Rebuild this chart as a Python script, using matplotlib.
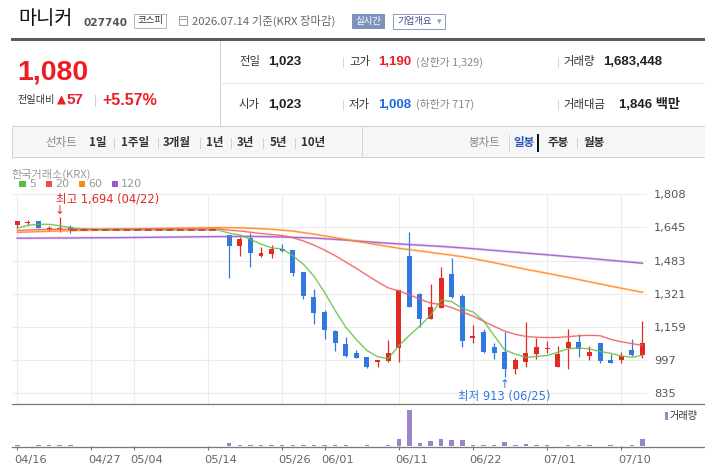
import numpy as np
import pandas as pd
import matplotlib
matplotlib.use('Agg')
import matplotlib.pyplot as plt
from matplotlib.lines import Line2D
from matplotlib.patches import Rectangle
import matplotlib.transforms as mtrans

plt.rcParams['font.family'] = ['DejaVu Sans', 'Noto Sans CJK KR']

# ---------------- data ----------------
dates = ['04/16', '04/17', '04/20', '04/21', '04/22', '04/23', '04/24', '04/27', '04/28', '04/29',
         '04/30', '05/04', '05/06', '05/07', '05/08', '05/11', '05/12', '05/13', '05/14', '05/15',
         '05/18', '05/19', '05/20', '05/21', '05/22', '05/26', '05/27', '05/28', '05/29', '06/01',
         '06/02', '06/04', '06/05', '06/08', '06/09', '06/10', '06/11', '06/12', '06/15', '06/16',
         '06/17', '06/18', '06/19', '06/22', '06/23', '06/24', '06/25', '06/26', '06/29', '06/30',
         '07/01', '07/02', '07/03', '07/06', '07/07', '07/08', '07/09', '07/10', '07/13', '07/14']
N = np.nan
halt = [N] * 14
opens = [1655, 1665, 1676, 1637, 1636, 1648] + halt + [
    1608, 1556, 1592, 1507, 1517, 1538, 1535, 1427, 1305, 1232, 1139, 1076, 1032, 1012, 989, 993,
    1058, 1505, 1320, 1199, 1253, 1417, 1310, 1106, 1133, 1061, 1037, 952, 989, 1028, 1052, 962,
    1056, 1084, 1017, 1081, 998, 998, 1046, 1023]
closes = [1676, 1668, 1641, 1643, 1638, 1632] + halt + [
    1556, 1588, 1521, 1520, 1539, 1530, 1424, 1312, 1229, 1145, 1082, 1019, 1009, 963, 996, 1030,
    1339, 1258, 1199, 1255, 1396, 1304, 1092, 1115, 1038, 1033, 952, 996, 1032, 1061, 1056, 1028,
    1085, 1050, 1037, 994, 985, 1017, 1023, 1080]
highs = [1676, 1681, 1676, 1653, 1694, 1657] + halt + [
    1608, 1597, 1616, 1548, 1558, 1564, 1535, 1427, 1344, 1242, 1144, 1110, 1046, 1012, 996, 1095,
    1339, 1621, 1326, 1369, 1453, 1494, 1320, 1168, 1150, 1079, 1136, 1006, 1182, 1105, 1092, 1066,
    1149, 1125, 1066, 1081, 1025, 1038, 1099, 1190]
lows = [1643, 1657, 1641, 1627, 1624, 1619] + halt + [
    1399, 1507, 1453, 1499, 1497, 1525, 1409, 1295, 1175, 1102, 1043, 1014, 1009, 958, 965, 986,
    989, 1255, 1160, 1199, 1253, 1300, 1063, 1079, 1030, 1001, 913, 929, 962, 1004, 1033, 962,
    954, 1014, 998, 981, 981, 985, 1015, 1008]
volumes = [250000, 60000, 280000, 260000, 300000, 260000] + [0] * 14 + [
    760000, 280000, 250000, 240000, 260000, 250000, 270000, 260000, 250000, 270000, 260000, 240000,
    100000, 300000, 100000, 300000, 1680000, 8370000, 760000, 1220000, 1680000, 1450000, 1450000,
    300000, 300000, 300000, 990000, 300000, 530000, 300000, 300000, 100000, 300000, 300000, 300000,
    100000, 300000, 100000, 300000, 1683448]

# moving-average starts (window not yet full)
ma5_head = [1641, 1655, 1660, 1660]
ma20_head = [1630, 1632, 1634, 1635, 1636, 1636, 1637, 1637, 1637, 1637,
             1637, 1637, 1637, 1637, 1637, 1637, 1637, 1637, 1637]
ma60_idx = [0, 5, 10, 15, 19, 21, 24, 26, 28, 30, 32, 34, 36, 38, 40, 42, 44, 46, 48, 50, 53, 56, 59]
ma60_val = [1621, 1629, 1636, 1641, 1644, 1643, 1636, 1627, 1612, 1595, 1577, 1560, 1543, 1530,
            1516, 1502, 1483, 1462, 1440, 1421, 1390, 1358, 1328]
ma120_idx = [0, 10, 19, 22, 25, 28, 31, 34, 37, 40, 43, 47, 50, 53, 56, 59]
ma120_val = [1592, 1595, 1600, 1601, 1598, 1593, 1583, 1571, 1561, 1552, 1541, 1524, 1511, 1498,
             1484, 1470]

price_ticks = [835, 997, 1159, 1321, 1483, 1645, 1808]
date_ticks = ['04/16', '04/27', '05/04', '05/14', '05/26', '06/01', '06/11', '06/22', '07/01', '07/10']

high_label = '최고 1,694 (04/22)'
low_label = '최저 913 (06/25)'

# ---------------- figure ----------------
W, H = 705, 476
fig = plt.figure(figsize=(W / 100, H / 100), dpi=100)
fig.patch.set_facecolor('white')
KR = ['Noto Sans CJK KR', 'DejaVu Sans']
NUM = ['Liberation Sans', 'Noto Sans CJK KR']

RED = '#e32a22'
BLUE = '#3278e0'
VOLC = '#9c85c6'


def fx(x):
    return x / W


def fy(y):
    return 1 - y / H


def ftext(x, y, s, size, color='#333', weight='normal', ha='left', va='center', family=KR):
    fig.text(fx(x), fy(y), s, fontsize=size, color=color, fontweight=weight,
             ha=ha, va=va, family=family)


def fline(x0, x1, y0, y1, color, lw_px, ls='-'):
    fig.add_artist(Line2D([fx(x0), fx(x1)], [fy(y0), fy(y1)], transform=fig.transFigure,
                          color=color, lw=lw_px * 0.72, ls=ls))


def frect(x0, y0, x1, y1, fc, ec='none', lw_px=1):
    fig.add_artist(Rectangle((fx(x0), fy(y1)), (x1 - x0) / W, (y1 - y0) / H,
                             transform=fig.transFigure, fc=fc, ec=ec, lw=lw_px * 0.72))


# ---------------- header ----------------
ftext(18, 19, '마니커', 14.2, '#111')
ftext(83, 22.5, '027740', 7.6, '#555', 'bold', family=['DejaVu Sans'])
frect(134, 14, 166, 28, 'white', '#b5b5b5')
ftext(150, 21, '코스피', 6.8, '#333', ha='center')
frect(179, 16, 187, 25, 'white', '#a0a0a0')
fline(179, 187, 18.5, 18.5, '#a0a0a0', 1)
ftext(192, 21, '2026.07.14 기준(KRX 장마감)', 8.2, '#666')
frect(352, 14, 385, 29, '#7f92bd')
ftext(368.5, 21.5, '실시간', 6.8, 'white', ha='center')
frect(393, 14, 445, 29, 'white', '#8e9cc4')
ftext(397, 21.5, '기업개요', 6.8, '#3c4b8c')
ftext(437, 22, '▾', 6.5, '#8e9cc4', family=['DejaVu Sans'])

fline(12, 705, 39.2, 39.2, '#5c5c5c', 3)

ftext(17, 72.5, '1,080', 20.5, '#ee1c25', 'bold', family=['Liberation Sans Narrow', 'Liberation Sans'])
ftext(18, 100.5, '전일대비', 7.3, '#333')
ftext(56.5, 100.5, '▲', 8.5, '#ee1c25', family=['DejaVu Sans'])
ftext(66, 100.5, '57', 11, '#ee1c25', 'bold', family=NUM)
fline(95, 95, 95, 106, '#d0d0d0', 1)
ftext(102, 100.5, '+5.57%', 11.5, '#ee1c25', 'bold', family=NUM)

fline(220, 220, 40.7, 126, '#d0d0d0', 1)
fline(220, 705, 83, 83, '#e6e6e6', 1)

row1, row2 = 62, 104.5
for yy, a, av, ac, b, bv, bc, bsub, c, cv in [
        (row1, '전일', '1,023', '#222', '고가', '1,190', '#ee1c25', '(상한가 1,329)', '거래량', '1,683,448'),
        (row2, '시가', '1,023', '#222', '저가', '1,008', '#1a6be0', '(하한가 717)', '거래대금', '1,846 백만')]:
    ftext(239, yy, a, 8.2, '#333')
    ftext(268, yy, av, 9.5, ac, 'bold', family=NUM)
    fline(342.5, 342.5, yy - 5, yy + 5, '#d5d5d5', 1)
    ftext(349, yy, b, 8.2, '#333')
    ftext(378, yy, bv, 9.5, bc, 'bold', family=NUM)
    ftext(416, yy, bsub, 7.8, '#888')
    fline(557.5, 557.5, yy - 5, yy + 5, '#d5d5d5', 1)
    ftext(563, yy, c, 8.2, '#333')
    ftext(603 if c == '거래량' else 619, yy, cv, 9.5, '#222', 'bold', family=NUM)

# toolbar
frect(12, 126, 704.5, 157, '#f5f6f8', '#d2d2d2')
ty = 142.5
ftext(45, ty, '선차트', 8.3, '#888')
for xx, s in [(89, '1일'), (121, '1주일'), (163, '3개월'), (206, '1년'), (237, '3년'), (270, '5년'), (301, '10년')]:
    ftext(xx, ty, s, 8.3, '#333', 'bold')
for xx in [114, 158, 200, 231, 263, 295]:
    fline(xx, xx, ty - 5, ty + 5, '#d0d0d0', 1)
fline(362, 362, 126, 157, '#d5d5d5', 1)
ftext(468, ty, '봉차트', 8.3, '#888')
fline(509, 509, ty - 8, ty + 8, '#888', 0.8, ':')
ftext(513, ty, '일봉', 8.3, '#2e56b8', 'bold')
fline(537.5, 537.5, ty - 8, ty + 8, '#111', 2)
ftext(548, ty, '주봉', 8.3, '#333', 'bold')
fline(577, 577, ty - 5, ty + 5, '#d0d0d0', 1)
ftext(584, ty, '월봉', 8.3, '#333', 'bold')

# chart legend
ftext(11.5, 174, '한국거래소(KRX)', 8, '#999')
for x0, col, lab in [(19.3, '#5dbb3e', '5'), (45.7, '#ef4b4b', '20'), (78.7, '#f5891f', '60'), (111.7, '#9b59c9', '120')]:
    frect(x0, 181, x0 + 6.4, 187.4, col)
    ftext(x0 + 9.5, 184.3, lab, 8, '#999', family=['DejaVu Sans'])

# ---------------- price axes ----------------
L, R = 12, 647
ax = fig.add_axes([fx(L), fy(403.7), (R - L) / W, (403.7 - 194) / H])
ax.set_facecolor('none')
ax.set_xlim(-0.5, 59.43)
ax.set_ylim(784, 1808)
for s in ax.spines.values():
    s.set_visible(False)

x = np.arange(len(dates))
tick_pos = [dates.index(d) for d in date_ticks]
ax.set_xticks(tick_pos)
ax.set_yticks(price_ticks)
ax.grid(True, color='#ececec', lw=0.75)
ax.set_axisbelow(True)
ax.tick_params(axis='x', length=0, labelbottom=False)
ax.yaxis.set_ticks_position('right')
ax.tick_params(axis='y', length=0, pad=5, labelsize=8.2, labelcolor='#555')
ax.set_yticklabels([f'{v:,}' for v in price_ticks], family='DejaVu Sans')

o = np.array(opens, float)
c = np.array(closes, float)
h = np.array(highs, float)
lo = np.array(lows, float)
valid = ~np.isnan(o)
cols = np.where(c >= o, RED, BLUE)
ax.vlines(x[valid], lo[valid], h[valid], colors=cols[valid], lw=0.9, zorder=3)
bb = np.minimum(o, c)[valid]
bh = np.maximum(np.abs(c - o)[valid], 6)
ax.bar(x[valid], bh, bottom=bb, width=0.47, color=cols[valid], lw=0, zorder=3)

# moving averages
cf = pd.Series(c).ffill()
ma5 = cf.rolling(5).mean().to_numpy()
ma5[:len(ma5_head)] = ma5_head
ma20 = cf.rolling(20).mean().to_numpy()
ma20[:len(ma20_head)] = ma20_head


def ma_line(xs, ys, col, core_px=1.0, halo_px=2.2):
    ax.plot(xs, ys, color=col, lw=halo_px * 0.72, alpha=0.2, zorder=4, solid_capstyle='round')
    ax.plot(xs, ys, color=col, lw=core_px * 0.72, alpha=0.9, zorder=4)


ma_line(ma120_idx, ma120_val, '#a05dd0', 1.4, 2.8)
ma_line(ma60_idx, ma60_val, '#ff8a1e', 1.3, 2.6)
ma_line(x, ma20, '#f05a5a', 1.1, 2.2)
ma_line(x, ma5, '#62c043', 1.1, 2.0)

# trading halt dashed segment
hs, he = 5, 19
ax.plot(x[hs:he + 1], cf.to_numpy()[hs:he + 1], color=RED, lw=1.1, ls=(0, (4.5, 2.5)), zorder=5)

# high / low annotations
ih = int(np.nanargmax(h))
il = int(np.nanargmin(lo))
tr = ax.transData
ax.text(x[ih], h[ih], '↓', color=RED, fontsize=8.5, ha='center', va='bottom', family=['DejaVu Sans'],
        transform=mtrans.offset_copy(tr, fig=fig, x=0, y=0, units='dots'), zorder=6)
ax.text(x[ih], h[ih], high_label, color=RED, fontsize=8.3, ha='left', va='center',
        transform=mtrans.offset_copy(tr, fig=fig, x=-3.5, y=18.7, units='dots'), zorder=6, clip_on=False)
ax.text(x[il], lo[il], '↑', color=BLUE, fontsize=8.5, ha='center', va='top', family=['DejaVu Sans'],
        transform=mtrans.offset_copy(tr, fig=fig, x=0, y=-1, units='dots'), zorder=6)
ax.text(x[il], lo[il], low_label, color=BLUE, fontsize=8.3, ha='center', va='center',
        transform=mtrans.offset_copy(tr, fig=fig, x=0, y=-19, units='dots'), zorder=6, clip_on=False)

# ---------------- volume axes ----------------
axv = fig.add_axes([fx(L), fy(446.3), (R - L) / W, (446.3 - 403.7) / H])
axv.set_facecolor('none')
axv.set_xlim(-0.5, 59.43)
axv.set_ylim(0, 9.8e6)
for s in axv.spines.values():
    s.set_visible(False)
vol = np.array(volumes, float)
axv.bar(x, vol, width=0.42, color=VOLC, lw=0)
axv.set_yticks([])
axv.set_xticks(tick_pos)
axv.set_xticklabels(date_ticks, family='DejaVu Sans')
axv.tick_params(axis='x', length=2.9, width=0.8, color='#777', pad=3.2, labelsize=8.2, labelcolor='#666')
shift = mtrans.ScaledTranslation(-3.5 / 100, 0, fig.dpi_scale_trans)
for lab in axv.get_xticklabels():
    lab.set_ha('left')
    lab.set_transform(lab.get_transform() + shift)

fline(12, 705, 403.7, 403.7, '#7a7a7a', 1.3)
fline(12, 705, 446.5, 446.5, '#7a7a7a', 1.3)

frect(665, 412, 667.8, 419.7, VOLC)
ftext(669.3, 415.7, '거래량', 7.3, '#333')

fig.savefig('out.png', dpi=100, facecolor='white')
